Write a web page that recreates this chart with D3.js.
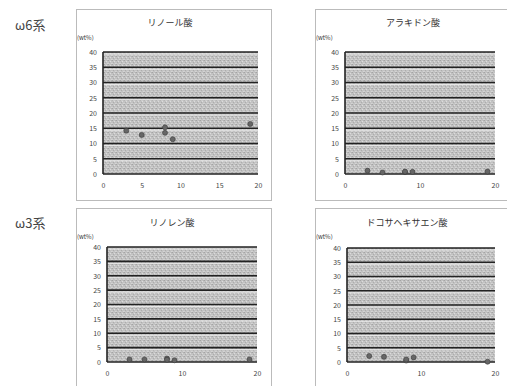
<!DOCTYPE html>
<html>
<head>
<meta charset="utf-8">
<script src="https://d3js.org/d3.v7.min.js"></script>
<style>
body { margin: 0; background: #fff; }
text { font-family: "Noto Sans CJK JP", "DejaVu Sans", sans-serif; fill: #333; }
.tick text { font-size: 7px; fill: #444; }
.title { font-size: 9px; }
.group { font-size: 13px; fill: #444; }
</style>
</head>
<body>
<svg id="chart" width="507" height="386"></svg>
<script>
// data
var groupLabels = ["ω6系", "ω3系"];
var titles = ["リノール酸", "アラキドン酸", "リノレン酸", "ドコサヘキサエン酸"];
var yTicks = [0, 5, 10, 15, 20, 25, 30, 35, 40];
var xTicksA = [0, 5, 10, 15, 20];
var xTicksB = [0, 10, 20];
var ageX = [3, 5, 8, 8, 9, 19];
var linoleic = [14.2, 12.8, 15.3, 13.5, 11.4, 16.4];
var arachidonic = [1.1, 0.5, 0.6, 0.8, 0.7, 0.8];
var linolenic = [0.9, 0.9, 1.2, 0.8, 0.6, 0.9];
var dha = [2.1, 1.8, 0.5, 0.9, 1.6, 0.1];

var series = [linoleic, arachidonic, linolenic, dha];
var xTickSets = [xTicksA, xTicksB, xTicksB, xTicksB];

// layout: panel box, plot box
var layout = [
  {box: [76, 9, 271, 200], plot: [103, 52, 258, 174], tx: 170, ty: 26, ly: 40},
  {box: [315, 9, 509, 200], plot: [345, 52, 495, 174], tx: 413, ty: 26, ly: 40},
  {box: [76, 208, 271, 400], plot: [107, 247, 257, 362], tx: 172, ty: 226, ly: 239},
  {box: [315, 208, 509, 400], plot: [347, 248, 495, 362], tx: 407, ty: 226, ly: 239}
];

var svg = d3.select("#chart");

// halftone-ish fill for the plot area
var defs = svg.append("defs");
var pat = defs.append("pattern").attr("id", "ht")
    .attr("width", 4).attr("height", 4).attr("patternUnits", "userSpaceOnUse");
pat.append("rect").attr("width", 4).attr("height", 4).attr("fill", "#c2c2c2");
[[0, 0, "#a4a4a4"], [2, 1, "#dcdcdc"], [1, 2, "#acacac"], [3, 3, "#d4d4d4"], [3, 0, "#b2b2b2"], [0, 3, "#d0d0d0"]]
  .forEach(function(c) {
    pat.append("rect").attr("x", c[0]).attr("y", c[1]).attr("width", 1).attr("height", 1).attr("fill", c[2]);
  });

svg.append("text").attr("class", "group").attr("x", 15).attr("y", 30).text(groupLabels[0]);
svg.append("text").attr("class", "group").attr("x", 15).attr("y", 228).text(groupLabels[1]);

layout.forEach(function(L, i) {
  var b = L.box, p = L.plot;
  svg.append("rect")
      .attr("x", b[0] + 0.5).attr("y", b[1] + 0.5)
      .attr("width", b[2] - b[0]).attr("height", b[3] - b[1])
      .attr("fill", "#fff").attr("stroke", "#777")
      .attr("stroke-dasharray", "1,1");

  var x = d3.scaleLinear().domain([0, 20]).range([p[0], p[2]]);
  var y = d3.scaleLinear().domain([0, 40]).range([p[3], p[1]]);

  svg.append("rect")
      .attr("x", p[0]).attr("y", p[1])
      .attr("width", p[2] - p[0]).attr("height", p[3] - p[1])
      .attr("fill", "url(#ht)");

  // grid lines, each with a pale line just under it
  svg.append("g").selectAll("line").data(yTicks.slice(1)).join("line")
      .attr("x1", p[0]).attr("x2", p[2])
      .attr("y1", function(d) { return y(d) + 2; })
      .attr("y2", function(d) { return y(d) + 2; })
      .attr("stroke", "#e8e8e8").attr("stroke-width", 1);
  svg.append("g").selectAll("line").data(yTicks).join("line")
      .attr("x1", p[0]).attr("x2", p[2])
      .attr("y1", function(d) { return y(d); })
      .attr("y2", function(d) { return y(d); })
      .attr("stroke", "#222").attr("stroke-width", 1.6);

  svg.append("line").attr("x1", p[0]).attr("x2", p[0])
      .attr("y1", p[1]).attr("y2", p[3])
      .attr("stroke", "#222").attr("stroke-width", 1.6);

  var ya = svg.append("g")
      .attr("transform", "translate(" + (p[0] - 4) + ",0)")
      .call(d3.axisLeft(y).tickValues(yTicks).tickSize(0).tickPadding(2));
  ya.select(".domain").remove();

  var xa = svg.append("g")
      .attr("transform", "translate(0," + (p[3] + 7) + ")")
      .call(d3.axisBottom(x).tickValues(xTickSets[i]).tickSize(0).tickPadding(2));
  xa.select(".domain").remove();

  svg.append("text").attr("class", "title")
      .attr("x", L.tx).attr("y", L.ty).attr("text-anchor", "middle")
      .text(titles[i]);
  svg.append("text")
      .attr("x", b[0] + 1).attr("y", L.ly)
      .style("font-size", "6px")
      .text("(wt%)");

  svg.append("g").selectAll("path").data(series[i]).join("path")
      .attr("d", d3.symbol(d3.symbolCircle, 20))
      .attr("transform", function(d, j) { return "translate(" + x(ageX[j]) + "," + y(d) + ")"; })
      .attr("fill", "#666").attr("stroke", "#3a3a3a").attr("stroke-width", 0.6);
});
</script>
</body>
</html>
